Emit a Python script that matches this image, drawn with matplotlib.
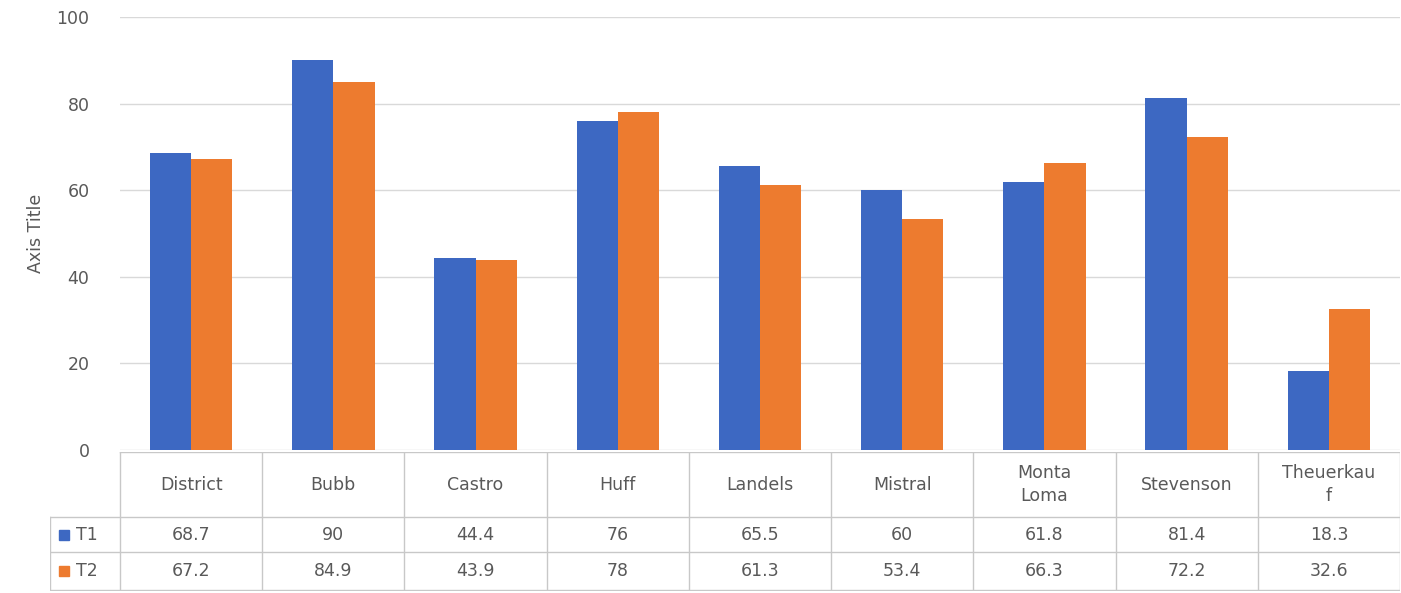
import matplotlib.pyplot as plt
import numpy as np

schools = ['District', 'Bubb', 'Castro', 'Huff', 'Landels', 'Mistral',
           'Monta\nLoma', 'Stevenson', 'Theuerkau\nf']
t1 = [68.7, 90, 44.4, 76, 65.5, 60, 61.8, 81.4, 18.3]
t2 = [67.2, 84.9, 43.9, 78, 61.3, 53.4, 66.3, 72.2, 32.6]
t1_labels = ['68.7', '90', '44.4', '76', '65.5', '60', '61.8', '81.4', '18.3']
t2_labels = ['67.2', '84.9', '43.9', '78', '61.3', '53.4', '66.3', '72.2', '32.6']
series = ['T1', 'T2']

blue = '#3D68C2'
orange = '#ED7B2F'
grid_c = '#D9D9D9'
txt_c = '#595959'
fs = 12.5

plt.rcParams['font.family'] = ['DejaVu Sans']

W, H = 1401, 593
fig = plt.figure(figsize=(W / 100, H / 100), dpi=100)


def px_box(x0, y0, x1, y1):
    return [x0 / W, 1 - y1 / H, (x1 - x0) / W, (y1 - y0) / H]


ax = fig.add_axes(px_box(120, 17, 1400, 450))
x = np.arange(len(schools))
bw = 0.29
ax.bar(x - bw / 2, t1, bw, color=blue, zorder=3)
ax.bar(x + bw / 2, t2, bw, color=orange, zorder=3)
ax.set_xlim(-0.5, len(schools) - 0.5)
ax.set_ylim(0, 100)
ax.set_yticks(range(0, 101, 20))
ax.yaxis.grid(True, color=grid_c, linewidth=1)
ax.set_xticks([])
for s in ax.spines.values():
    s.set_visible(False)
ax.tick_params(axis='y', length=0, pad=22, labelcolor=txt_c, labelsize=fs)
ax.set_ylabel('Axis Title', color=txt_c, fontsize=fs, labelpad=8)

# data table below the plot
cw = 1280 / len(schools)
left = -0.5 - 70 / cw
tax = fig.add_axes(px_box(50, 452, 1400, 591))
tax.set_xlim(left, len(schools) - 0.5)
tax.set_ylim(139, 0)
tax.axis('off')
lc = '#C8C8C8'
r1, r2, r3 = 65, 100, 138
tax.plot([-0.5, len(schools) - 0.5], [0, 0], color=lc, lw=1)
for yy in (r1, r2, r3):
    tax.plot([left, len(schools) - 0.5], [yy, yy], color=lc, lw=1)
tax.plot([left, left], [r1, r3], color=lc, lw=1)
for i in range(len(schools) + 1):
    tax.plot([i - 0.5, i - 0.5], [0, r3], color=lc, lw=1)
for i, name in enumerate(schools):
    tax.text(i, r1 / 2, name, ha='center', va='center', color=txt_c,
             fontsize=fs, linespacing=1.3)
    tax.text(i, (r1 + r2) / 2, t1_labels[i], ha='center', va='center',
             color=txt_c, fontsize=fs)
    tax.text(i, (r2 + r3) / 2, t2_labels[i], ha='center', va='center',
             color=txt_c, fontsize=fs)
for yy, lab, col in [((r1 + r2) / 2, series[0], blue), ((r2 + r3) / 2, series[1], orange)]:
    tax.plot(left + 0.1, yy, marker='s', markersize=7, color=col, linestyle='none')
    tax.text(left + 0.18, yy, lab, ha='left', va='center', color=txt_c, fontsize=fs)

fig.savefig('out.png', dpi=100)
